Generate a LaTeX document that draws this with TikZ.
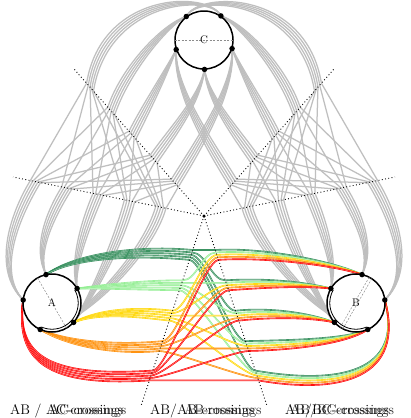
\documentclass[tikz,border=0pt]{standalone}
\usepackage{tikz}
\definecolor{cDG}{RGB}{46,139,87}
\definecolor{cLG}{RGB}{144,238,144}
\definecolor{cYE}{RGB}{255,215,0}
\definecolor{cOR}{RGB}{255,140,0}
\definecolor{cRE}{RGB}{255,0,0}
\def\UtabL{0/172/c0/210/-8/105/-5, 1/140/c1/165/25/125/70, 2/108/c2/165/75/145/110, 3/76/c3/200/100/170/135, 4/44/c4/235/90/195/150}
\def\UtabR{0/172/c1/210/-8/105/-5, 1/140/c0/165/25/125/70, 2/108/c4/165/75/145/110, 3/76/c3/200/100/170/135, 4/44/c2/235/90/195/150}
\def\HtabL{0/172/a2/15/215/-6/270, 1/140/a1/50/215/35/250, 2/108/a0/85/225/72/265, 3/76/a4/118/245/90/300, 4/44/a3/148/255/75/330}
\def\HtabR{0/172/b2/15/215/-6/270, 1/140/b1/50/215/35/250, 2/108/b0/85/225/72/265, 3/76/b4/118/245/90/300, 4/44/b3/148/255/75/330}
\newcommand\graybundles[3]{%
 \foreach \i/\Di/\cd/\gax/\gay/\gbx/\gby in #2 {%
  \foreach \j/\Dj/\ad/\kax/\kay/\kbx/\kby in #3 {%
   \pgfmathsetmacro\du{(2-\j)*2.6}%
   \pgfmathsetmacro\dh{(2-\i)*2.6}%
   \pgfmathsetmacro\Ux{204+(#1)*0.6626*(\Di+\du)}%
   \pgfmathsetmacro\Uy{216-0.7492*(\Di+\du)}%
   \pgfmathsetmacro\Hx{204+(#1)*0.980*(\Dj+\dh)}%
   \pgfmathsetmacro\Hy{216-0.2*(\Dj+\dh)}%
   \pgfmathsetmacro\Pax{204+(#1)*(204-\gax)+(#1)*0.3313*\du}%
   \pgfmathsetmacro\Pay{\gay-0.3746*\du}%
   \pgfmathsetmacro\Pbx{204+(#1)*(204-\gbx)+(#1)*0.6626*\du}%
   \pgfmathsetmacro\Pby{\gby-0.7492*\du}%
   \pgfmathsetmacro\Qax{204+(#1)*(204-\kax)+(#1)*0.980*\dh}%
   \pgfmathsetmacro\Qay{\kay-0.2*\dh}%
   \pgfmathsetmacro\Qbx{204+(#1)*(204-\kbx)+(#1)*0.490*\dh}%
   \pgfmathsetmacro\Qby{\kby-0.1*\dh}%
   \draw[grayline] (\cd) .. controls (\Pax,\Pay) and (\Pbx,\Pby) .. (\Ux,\Uy) -- (\Hx,\Hy) .. controls (\Qax,\Qay) and (\Qbx,\Qby) .. (\ad);
  }}}
\begin{document}
\begin{tikzpicture}[x=1pt,y=-1pt,
  grayline/.style={draw=black!25, line width=1.25pt},
  cline/.style={draw=#1, double=#1!45!white, double distance=0.4pt, line width=0.6pt},
  rayline/.style={draw=black, line width=0.9pt, dash pattern=on 0.9pt off 2.4pt},
  vdot/.style={circle, fill=black, inner sep=0pt, minimum size=5.5pt},
  bigcirc/.style={circle, draw=black, line width=1.5pt, fill=white, minimum size=58pt, inner sep=0pt},
  diam/.style={draw=black!45, line width=0.5pt, dash pattern=on 2pt off 1.5pt},
  clabel/.style={font=\fontsize{11}{12}\selectfont, inner sep=0pt},
  lbl/.style={font=\fontsize{14}{16}\selectfont, inner sep=0pt},
  lbls/.style={font=\fontsize{14}{16}\selectfont, inner sep=0pt, text=black!85}
]
\useasboundingbox (0,0) rectangle (410,418);
\fill[white] (0,0) rectangle (410,418);

\coordinate (O) at (204,216);
\coordinate (a0) at (77.1,288.5);
\coordinate (a1) at (46.0,274.6);
\coordinate (a2) at (23.2,300.0);
\coordinate (a3) at (40.2,329.5);
\coordinate (a4) at (73.6,322.4);
\coordinate (b0) at (330.9,288.5);
\coordinate (b1) at (362.0,274.6);
\coordinate (b2) at (384.8,300.0);
\coordinate (b3) at (367.8,329.5);
\coordinate (b4) at (334.4,322.4);
\coordinate (c0) at (220.9,15.9);
\coordinate (c1) at (186.3,16.5);
\coordinate (c2) at (176.2,49.6);
\coordinate (c3) at (204.5,69.4);
\coordinate (c4) at (232.1,48.6);

% gray AC and BC bundles
\graybundles{-1}{\UtabL}{\HtabL}
\graybundles{1}{\UtabR}{\HtabR}

% coloured AB bundles
\foreach \p/\Dp/\ad/\col/\cax/\cay/\cbx/\cby in {0/41/a1/cDG/75/255/140/250, 1/73/a0/cLG/110/286/150/285, 2/105/a4/cYE/100/310/140/312, 3/137/a3/cOR/70/345/120/350, 4/168/a2/cRE/15/360/50/382} {
 \foreach \q/\Dq/\bd/\ccx/\ccy/\cdx/\cdy in {0/41/b1/260/252/330/262, 1/73/b0/260/283/300/283, 2/105/b4/270/312/310/315, 3/137/b3/290/345/345/342, 4/168/b2/340/390/405/375} {
   \pgfmathsetmacro\oL{(\q-2)*2.6}
   \pgfmathsetmacro\oR{(\p-2)*2.6}
   \pgfmathsetmacro\Lx{204-0.3148*(\Dp+\oL)}
   \pgfmathsetmacro\Ly{216+0.9494*(\Dp+\oL)}
   \pgfmathsetmacro\Rx{204+0.3148*(\Dq+\oR)}
   \pgfmathsetmacro\Ry{216+0.9494*(\Dq+\oR)}
   \pgfmathsetmacro\Pax{\cax-0.1574*\oL}
   \pgfmathsetmacro\Pay{\cay+0.4747*\oL}
   \pgfmathsetmacro\Pbx{\cbx-0.3148*\oL}
   \pgfmathsetmacro\Pby{\cby+0.9494*\oL}
   \pgfmathsetmacro\Lcx{\Lx+14}
   \pgfmathsetmacro\Rcx{\Rx-14}
   \pgfmathsetmacro\Qax{\ccx+0.3148*\oR}
   \pgfmathsetmacro\Qay{\ccy+0.9494*\oR}
   \pgfmathsetmacro\Qbx{\cdx+0.1574*\oR}
   \pgfmathsetmacro\Qby{\cdy+0.4747*\oR}
   \draw[cline=\col] (\ad) .. controls (\Pax,\Pay) and (\Pbx,\Pby) .. (\Lx,\Ly) .. controls (\Lcx,\Ly) and (\Rcx,\Ry) .. (\Rx,\Ry) .. controls (\Qax,\Qay) and (\Qbx,\Qby) .. (\bd);
 }}

% dotted rays
\coordinate (r1) at (74,69);
\coordinate (r2) at (13,177);
\coordinate (r3) at (141.3,405);
\coordinate (r4) at (334,69);
\coordinate (r5) at (395,177);
\coordinate (r6) at (266.7,405);
\foreach \r in {r1,r2,r3,r4,r5,r6} \draw[rayline] (O) -- (\r);
\node[circle, fill=black, inner sep=0pt, minimum size=3.5pt] (Odot) at (O) {};

% circles
\node[bigcirc] (A) at (52,303) {};
\node[bigcirc] (B) at (356,303) {};
\node[bigcirc] (C) at (204,40) {};
\draw[line width=0.8pt] plot[domain=-114:30, samples=30] ({52+26.2*cos(\x)},{303-26.2*sin(\x)});
\draw[line width=0.8pt] plot[domain=150:294, samples=30] ({356+26.2*cos(\x)},{303-26.2*sin(\x)});
\draw[diam] (37.5,277.9) -- (66.5,328.1);
\draw[diam] (369.2,277.2) -- (340.2,327.4);
\draw[diam] (371.8,278.6) -- (342.8,328.8);
\draw[diam] (174.6,40) -- (233.4,40);
\node[clabel] (lA) at (A) {A};
\node[clabel] (lB) at (B) {B};
\node[clabel] (lC) at (C) {C};

\foreach \n in {a0,a1,a2,a3,a4,b0,b1,b2,b3,b4,c0,c1,c2,c3,c4} \node[vdot] (d\n) at (\n) {};

% labels
\node[lbl, anchor=base west] (t1) at (10,414) {AB / AC-crossings};
\node[lbls, anchor=base west] (t1b) at (49,414) {AC-crossings};
\node[lbl, anchor=base west] (t2) at (150,414) {AB/AB-crossings};
\node[lbls, anchor=base west] (t2b) at (184,414) {AB-crossings};
\node[lbl, anchor=base west] (t3) at (285,414) {AB/BC-crossings};
\node[lbls, anchor=base west] (t3b) at (290,414) {AB/BC-crossings};
\end{tikzpicture}
\end{document}
